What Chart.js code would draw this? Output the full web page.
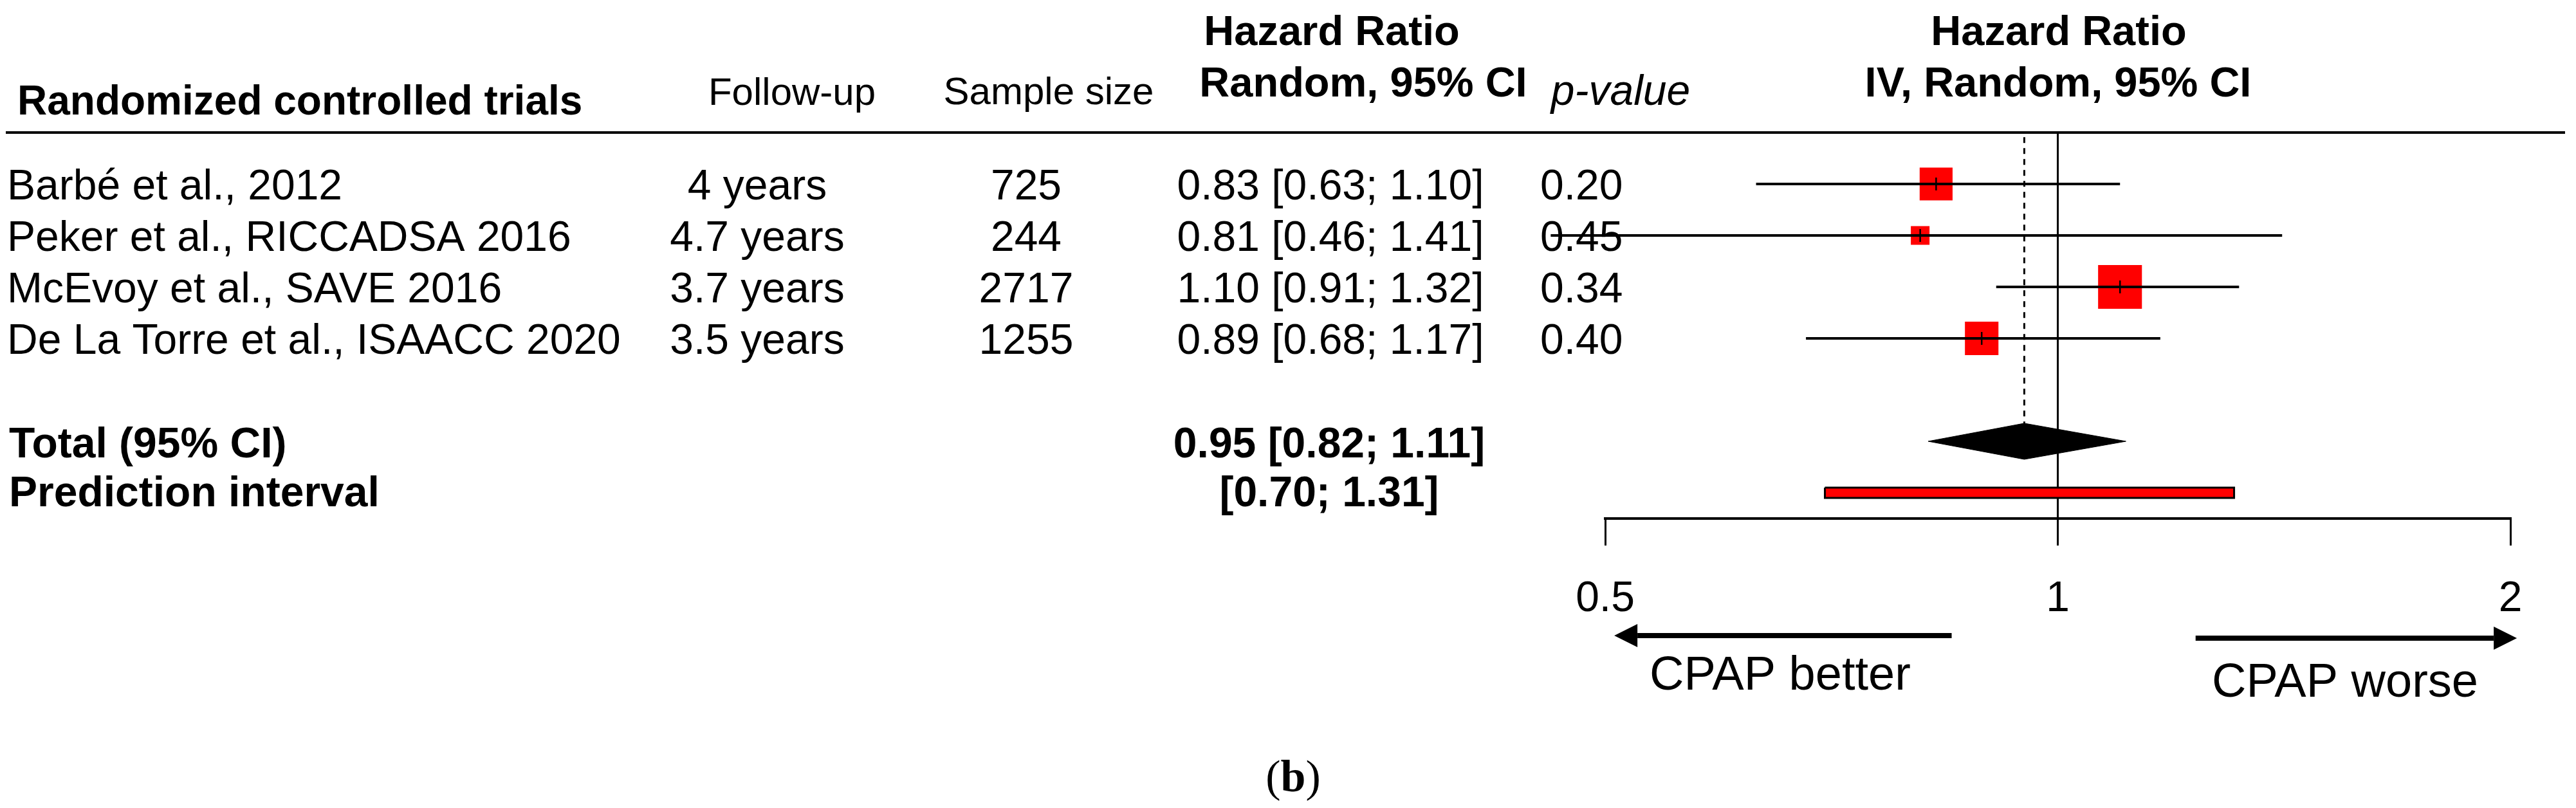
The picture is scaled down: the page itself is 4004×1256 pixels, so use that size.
<!DOCTYPE html>
<html>
<head>
<meta charset="utf-8">
<title>Forest plot - CPAP</title>
<script src="https://cdn.jsdelivr.net/npm/chart.js@4.4.1/dist/chart.umd.min.js"></script>
<style>
  body { margin: 0; background: #fff; }
  #wrap { width: 4004px; height: 1256px; }
</style>
</head>
<body>
<div id="wrap"><canvas id="forest" width="4004" height="1256"></canvas></div>
<script>
// study data
var studies = ["Barbé et al., 2012", "Peker et al., RICCADSA 2016", "McEvoy et al., SAVE 2016", "De La Torre et al., ISAACC 2020"];
var followUp = ["4 years", "4.7 years", "3.7 years", "3.5 years"];
var sampleSize = [725, 244, 2717, 1255];
var hr = [0.83, 0.81, 1.10, 0.89];
var lower = [0.63, 0.46, 0.91, 0.68];
var upper = [1.10, 1.41, 1.32, 1.17];
var pValues = ["0.20", "0.45", "0.34", "0.40"];
var weights = [24.2, 7.8, 42.9, 25.1];   // % weight, sets box size
var total = [0.95, 0.82, 1.11];          // estimate, lower, upper
var prediction = [0.70, 1.31];
var xTicks = [0.5, 1, 2];

var SANS = "'Liberation Sans', Arial, Helvetica, sans-serif";
var SERIF = "'Liberation Serif', 'Times New Roman', serif";
var TOTAL_ROW = 6, PRED_ROW = 7;

function fmt(v) { return v.toFixed(2); }

// datasets
var datasets = [];

// red boxes, side proportional to sqrt(weight)
datasets.push({
    data: hr.map(function (v, i) { return {x: v, y: i + 1}; }),
    pointStyle: 'rect',
    pointRadius: weights.map(function (w) { return Math.sqrt(w) * 10.4 / Math.SQRT2; }),
    backgroundColor: '#ff0000',
    borderWidth: 0,
    order: 5,
    clip: false
});

// confidence interval lines
for (var i = 0; i < studies.length; i++) {
    datasets.push({
        data: [{x: lower[i], y: i + 1}, {x: upper[i], y: i + 1}],
        showLine: true,
        borderColor: '#000',
        borderWidth: 4,
        pointRadius: 0,
        order: 3,
        clip: false
    });
}

// little vertical mark at each estimate
datasets.push({
    data: hr.map(function (v, i) { return {x: v, y: i + 1}; }),
    pointStyle: 'line',
    rotation: 90,
    pointRadius: 10,
    borderColor: '#000',
    borderWidth: 2.5,
    order: 1,
    clip: false
});

// dashed line at pooled estimate
datasets.push({
    data: [{x: total[0], y: 0.09}, {x: total[0], y: TOTAL_ROW - 0.35}],
    showLine: true,
    borderColor: '#000',
    borderWidth: 3,
    borderDash: [9, 8],
    pointRadius: 0,
    order: 4
});

// diamond
datasets.push({
    data: [
        {x: total[1], y: TOTAL_ROW},
        {x: total[0], y: TOTAL_ROW - 0.35},
        {x: total[2], y: TOTAL_ROW},
        {x: total[0], y: TOTAL_ROW + 0.35},
        {x: total[1], y: TOTAL_ROW}
    ],
    showLine: true,
    fill: 'shape',
    backgroundColor: '#000',
    borderColor: '#000',
    borderWidth: 1,
    pointRadius: 0,
    order: 2
});

// prediction interval bar
datasets.push({
    data: [
        {x: prediction[0], y: PRED_ROW - 0.1},
        {x: prediction[1], y: PRED_ROW - 0.1},
        {x: prediction[1], y: PRED_ROW + 0.1},
        {x: prediction[0], y: PRED_ROW + 0.1},
        {x: prediction[0], y: PRED_ROW - 0.1}
    ],
    showLine: true,
    fill: 'shape',
    backgroundColor: '#ff0000',
    borderColor: '#000',
    borderWidth: 3,
    pointRadius: 0,
    order: 2
});

function text(ctx, s, x, y, font, align) {
    ctx.font = font;
    ctx.textAlign = align || 'left';
    ctx.textBaseline = 'alphabetic';
    ctx.fillText(s, x, y);
}

var tablePlugin = {
    id: 'forestTable',
    afterDraw: function (chart) {
        var ctx = chart.ctx;
        var xs = chart.scales.x, ys = chart.scales.y;
        var top = chart.chartArea.top;
        var reg = '66px ' + SANS, bold = 'bold 66px ' + SANS;
        ctx.save();
        ctx.fillStyle = '#000';

        // header
        text(ctx, 'Randomized controlled trials', 27, top - 28, 'bold 64px ' + SANS);
        text(ctx, 'Follow-up', 1231, top - 43, '60px ' + SANS, 'center');
        text(ctx, 'Sample size', 1630, top - 44, '60px ' + SANS, 'center');
        text(ctx, 'Hazard Ratio', 2070, top - 136, 'bold 65px ' + SANS, 'center');
        text(ctx, 'Random, 95% CI', 2119, top - 56, 'bold 65px ' + SANS, 'center');
        text(ctx, 'p-value', 2519, top - 43, 'italic 66px ' + SANS, 'center');
        text(ctx, 'Hazard Ratio', 3200, top - 136, 'bold 65px ' + SANS, 'center');
        text(ctx, 'IV, Random, 95% CI', 3199, top - 56, 'bold 65px ' + SANS, 'center');

        // header rule
        ctx.strokeStyle = '#000';
        ctx.lineWidth = 4;
        ctx.beginPath();
        ctx.moveTo(9, top);
        ctx.lineTo(3987, top);
        ctx.stroke();

        // study rows
        for (var i = 0; i < studies.length; i++) {
            var yb = ys.getPixelForValue(i + 1) + 24;
            text(ctx, studies[i], 11, yb, reg);
            text(ctx, followUp[i], 1177, yb, reg, 'center');
            text(ctx, String(sampleSize[i]), 1595, yb, reg, 'center');
            text(ctx, fmt(hr[i]) + ' [' + fmt(lower[i]) + '; ' + fmt(upper[i]) + ']', 2068, yb, reg, 'center');
            text(ctx, pValues[i], 2394, yb, reg);
        }

        // pooled rows
        var yt = ys.getPixelForValue(TOTAL_ROW) + 25;
        text(ctx, 'Total (95% CI)', 14, yt, bold);
        text(ctx, fmt(total[0]) + ' [' + fmt(total[1]) + '; ' + fmt(total[2]) + ']', 2066, yt, bold, 'center');
        var yp = ys.getPixelForValue(PRED_ROW) + 21;
        text(ctx, 'Prediction interval', 14, yp, bold);
        text(ctx, '[' + fmt(prediction[0]) + '; ' + fmt(prediction[1]) + ']', 2066, yp, bold, 'center');

        // direction arrows
        function arrow(x0, x1, y) {
            var dir = x1 > x0 ? 1 : -1;
            var headLen = 36, half = 18;
            ctx.lineWidth = 8;
            ctx.beginPath();
            ctx.moveTo(x0, y);
            ctx.lineTo(x1 - dir * headLen, y);
            ctx.stroke();
            ctx.beginPath();
            ctx.moveTo(x1, y);
            ctx.lineTo(x1 - dir * headLen, y - half);
            ctx.lineTo(x1 - dir * headLen, y + half);
            ctx.closePath();
            ctx.fill();
        }
        arrow(xs.getPixelForValue(0.85), xs.getPixelForValue(0.507), 988);
        arrow(xs.getPixelForValue(1.235), xs.getPixelForValue(2.02), 992);
        text(ctx, 'CPAP better', 2564, 1072, '74px ' + SANS);
        text(ctx, 'CPAP worse', 3438, 1083, '74px ' + SANS);

        // panel label (b)
        var fR = '70px ' + SERIF, fB = 'bold 70px ' + SERIF;
        ctx.font = fR; var wp = ctx.measureText('(').width, wq = ctx.measureText(')').width;
        ctx.font = fB; var wb = ctx.measureText('b').width;
        var x0 = 2010 - (wp + wb + wq) / 2;
        text(ctx, '(', x0, 1230, fR);
        text(ctx, 'b', x0 + wp, 1230, fB);
        text(ctx, ')', x0 + wp + wb, 1230, fR);
        ctx.restore();
    }
};

new Chart('forest', {
    type: 'scatter',
    data: {datasets: datasets},
    options: {
        responsive: false,
        devicePixelRatio: 1,
        animation: false,
        layout: {padding: {left: 2495, right: 102, top: 206, bottom: 300}},
        plugins: {legend: {display: false}, tooltip: {enabled: false}},
        scales: {
            x: {
                type: 'logarithmic',
                min: 0.5,
                max: 2,
                afterBuildTicks: function (s) {
                    s.ticks = xTicks.map(function (v) { return {value: v}; });
                },
                afterFit: function (s) { s.height = 150; },
                ticks: {
                    autoSkip: false,
                    maxRotation: 0,
                    padding: 44,
                    color: '#000',
                    font: {family: SANS, size: 66},
                    callback: function (v) { return String(v); }
                },
                grid: {
                    drawOnChartArea: true,
                    color: function (c) { return c.tick && c.tick.value === 1 ? '#000' : 'rgba(0,0,0,0)'; },
                    tickColor: '#000',
                    tickLength: 42,
                    lineWidth: 3,
                    tickWidth: 3
                },
                border: {display: true, color: '#000', width: 4}
            },
            y: {
                type: 'linear',
                reverse: true,
                min: 0,
                max: 7.5,
                display: false
            }
        }
    },
    plugins: [tablePlugin]
});
</script>
</body>
</html>
